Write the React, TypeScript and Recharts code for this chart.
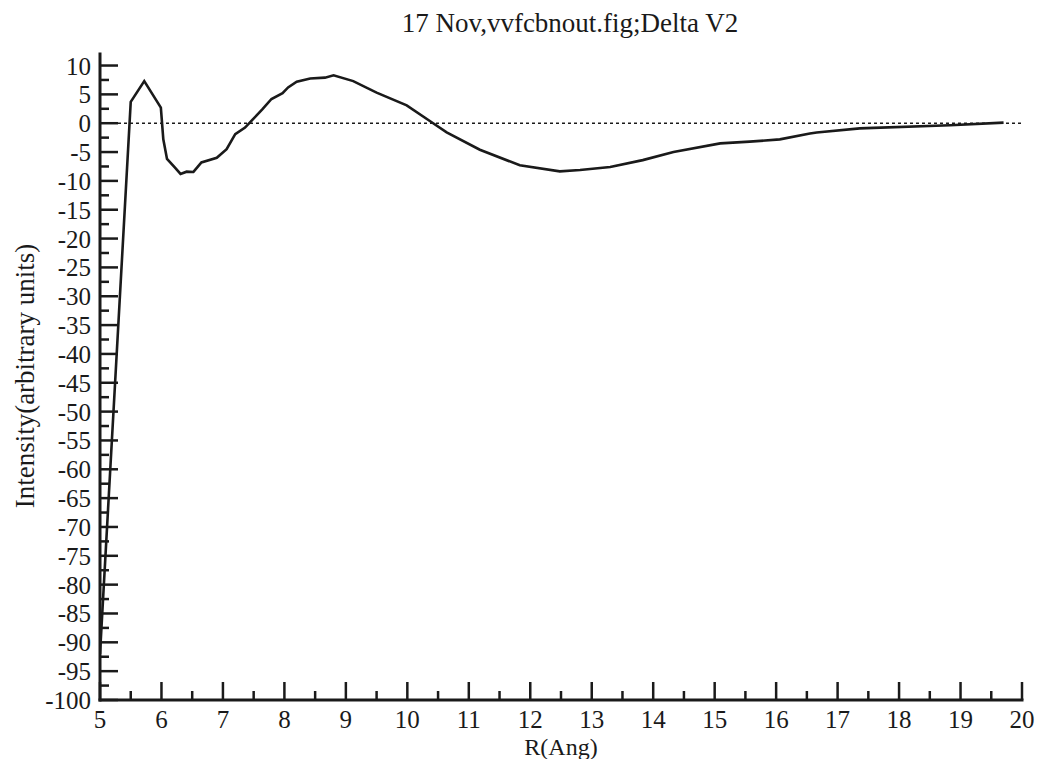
import { LineChart, Line, XAxis, YAxis, ReferenceLine } from 'recharts'

// R(Ang) and intensity
const rValues = [
  5.0, 5.5, 5.72, 5.99, 6.03, 6.09, 6.22, 6.31, 6.41, 6.52, 6.65, 6.9, 7.06, 7.2, 7.36, 7.49, 7.64,
  7.79, 7.97, 8.06, 8.2, 8.42, 8.66, 8.8, 9.12, 9.5, 9.99, 10.42, 10.64, 11.18, 11.83, 12.48, 12.81,
  13.3, 13.83, 14.33, 15.09, 15.57, 16.06, 16.55, 16.66, 17.36, 17.47, 18.83, 19.7,
]
const intensity = [
  -92, 3.7, 7.3, 2.7, -2.8, -6.2, -7.7, -8.8, -8.4, -8.45, -6.8, -6.0, -4.5, -1.9, -0.75, 0.7, 2.4,
  4.2, 5.2, 6.2, 7.2, 7.75, 7.9, 8.3, 7.3, 5.3, 3.1, 0.0, -1.6, -4.6, -7.3, -8.35, -8.1,
  -7.6, -6.4, -5.0, -3.5, -3.2, -2.8, -1.8, -1.6, -0.9, -0.85, -0.35, 0.1,
]

const xMajor = [5, 6, 7, 8, 9, 10, 11, 12, 13, 14, 15, 16, 17, 18, 19, 20]
const xMinor = [5.5, 6.5, 7.5, 8.5, 9.5, 10.5, 11.5, 12.5, 13.5, 14.5, 15.5, 16.5, 17.5, 18.5, 19.5]
const yMajor = [10, 5, 0, -5, -10, -15, -20, -25, -30, -35, -40, -45, -50, -55, -60, -65, -70, -75, -80, -85, -90, -95, -100]
const yMinor = [
  7.5, 2.5, -2.5, -7.5, -12.5, -17.5, -22.5, -27.5, -32.5, -37.5, -42.5, -47.5, -52.5, -57.5, -62.5,
  -67.5, -72.5, -77.5, -82.5, -87.5, -92.5, -97.5,
]

const data = rValues.map((r, i) => ({ r, v: intensity[i] }))

const FONT = "'Liberation Serif', Times, serif"
const INK = '#1a1a1a'
const MAJOR = 18
const MINOR = 9
const TICK_FS = 25

if (typeof document !== 'undefined') document.body.style.margin = '0'

const isMajorX = (v: number) => xMajor.includes(v)
const isMajorY = (v: number) => yMajor.includes(v)

function BottomTick({ x, y, payload }: any) {
  const major = isMajorX(payload.value)
  return (
    <g>
      <line x1={x} y1={y} x2={x} y2={y - (major ? MAJOR : MINOR)} stroke={INK} strokeWidth={2.5} />
      {major && (
        <text x={x} y={y + 28} textAnchor="middle" style={{ fontFamily: FONT, fontSize: TICK_FS }} fill={INK}>
          {payload.value}
        </text>
      )}
    </g>
  )
}

function TopTick({ x, y, payload }: any) {
  const major = isMajorX(payload.value)
  return <line x1={x} y1={y} x2={x} y2={y + (major ? MAJOR : MINOR)} stroke={INK} strokeWidth={2.5} />
}

function LeftTick({ x, y, payload }: any) {
  const major = isMajorY(payload.value)
  return (
    <g>
      <line x1={x} y1={y} x2={x + (major ? MAJOR : MINOR)} y2={y} stroke={INK} strokeWidth={2.5} />
      {major && (
        <text x={x - 9} y={y + 9} textAnchor="end" style={{ fontFamily: FONT, fontSize: TICK_FS }} fill={INK}>
          {payload.value}
        </text>
      )}
    </g>
  )
}

function RightTick({ x, y, payload }: any) {
  const major = isMajorY(payload.value)
  return <line x1={x} y1={y} x2={x - (major ? MAJOR : MINOR)} y2={y} stroke={INK} strokeWidth={2.5} />
}

const axisLine = { stroke: INK, strokeWidth: 3, strokeLinecap: 'square' as const }

export default function App() {
  const xTicks = [...xMajor, ...xMinor].sort((a, b) => a - b)
  const yTicks = [...yMajor, ...yMinor].sort((a, b) => a - b)

  return (
    <div style={{ position: 'relative', width: 1038, height: 759, background: '#fff' }}>
      <LineChart width={1038} height={759} data={data} margin={{ top: 54, right: 16, bottom: 0, left: 0 }}>
        <XAxis
          dataKey="r"
          type="number"
          domain={[5, 20]}
          ticks={xTicks}
          interval={0}
          height={59}
          tickSize={0}
          tickMargin={0}
          tickLine={false}
          axisLine={axisLine}
          tick={BottomTick}
          allowDataOverflow
        />
        <XAxis
          xAxisId="top"
          dataKey="r"
          type="number"
          orientation="top"
          domain={[5, 20]}
          ticks={xTicks}
          interval={0}
          height={0}
          tickSize={0}
          tickMargin={0}
          tickLine={false}
          axisLine={axisLine}
          tick={TopTick}
          allowDataOverflow
        />
        <YAxis
          type="number"
          domain={[-100, 12]}
          ticks={yTicks}
          interval={0}
          width={100}
          tickSize={0}
          tickMargin={0}
          tickLine={false}
          axisLine={axisLine}
          tick={LeftTick}
          allowDataOverflow
        />
        <YAxis
          yAxisId="right"
          type="number"
          orientation="right"
          domain={[-100, 12]}
          ticks={yTicks}
          interval={0}
          width={0}
          tickSize={0}
          tickMargin={0}
          tickLine={false}
          axisLine={axisLine}
          tick={RightTick}
          allowDataOverflow
        />
        <ReferenceLine y={0} stroke={INK} strokeWidth={1.5} strokeDasharray="3 3" />
        <Line
          dataKey="v"
          type="linear"
          stroke={INK}
          strokeWidth={2.6}
          dot={false}
          activeDot={false}
          isAnimationActive={false}
        />
      </LineChart>
      <svg
        width={1038}
        height={759}
        style={{ position: 'absolute', left: 0, top: 0, pointerEvents: 'none' }}
      >
        <g style={{ fontFamily: FONT }} fill={INK}>
          <text x={570} y={32} textAnchor="middle" fontSize={27}>
            17 Nov,vvfcbnout.fig;Delta V2
          </text>
          <text x={34} y={376} textAnchor="middle" fontSize={27} transform="rotate(-90 34 376)">
            Intensity(arbitrary units)
          </text>
          <text x={561} y={755} textAnchor="middle" fontSize={24}>
            R(Ang)
          </text>
        </g>
      </svg>
    </div>
  )
}
